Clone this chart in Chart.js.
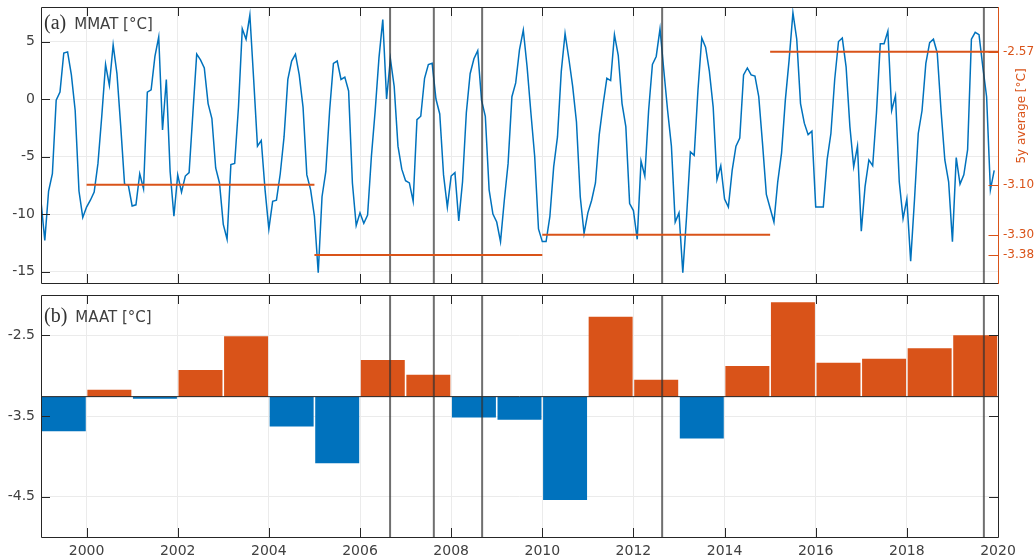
<!DOCTYPE html>
<html>
<head>
<meta charset="utf-8">
<script src="https://cdn.jsdelivr.net/npm/chart.js@4.4.1/dist/chart.umd.min.js"></script>
<style>
  html, body { margin: 0; padding: 0; background: #fff; }
  #wrap { position: relative; width: 1036px; height: 560px; overflow: hidden; }
  canvas { position: absolute; left: 0; }
</style>
</head>
<body>
<div id="wrap">
  <canvas id="chartTop" width="1036" height="290" style="top:0"></canvas>
  <canvas id="chartBottom" width="1036" height="272" style="top:288px"></canvas>
</div>
<script>
// monthly mean air temperature, Jan 1999 .. Dec 2019
const startYear = 1999;
const mmat = [
  -8.9, -12.3, -8.0, -6.5, -0.1, 0.6, 4.0, 4.1, 2.1, -1.0, -8.0, -10.3,
  -9.4, -8.8, -8.1, -5.6, -1.5, 3.0, 1.2, 4.7, 2.2, -2.4, -7.4, -7.5,
  -9.3, -9.2, -6.5, -7.8, 0.6, 0.8, 3.7, 5.4, -2.7, 1.7, -6.3, -10.2,
  -6.6, -8.1, -6.7, -6.4, -1.2, 3.9, 3.4, 2.7, -0.4, -1.7, -6.0, -7.3,
  -10.9, -12.2, -5.7, -5.6, -0.7, 6.1, 5.2, 7.3, 1.7, -4.1, -3.6, -7.9,
  -11.3, -8.9, -8.8, -6.5, -3.3, 1.7, 3.3, 3.9, 2.1, -0.7, -6.6, -7.9,
  -10.2, -15.1, -8.5, -6.3, -1.0, 3.1, 3.3, 1.7, 1.9, 0.7, -7.3, -11.0,
  -9.9, -10.8, -10.1, -5.0, -1.0, 3.6, 6.9, 0.0, 3.5, 1.1, -4.1, -6.1,
  -7.1, -7.3, -8.9, -1.8, -1.5, 1.8, 3.0, 3.1, 0.0, -1.3, -6.6, -9.4,
  -6.7, -6.4, -10.6, -7.2, -1.2, 2.2, 3.5, 4.2, -0.1, -1.5, -7.9, -10.0,
  -10.7, -12.4, -8.8, -5.6, 0.2, 1.4, 4.3, 6.0, 2.8, -1.2, -5.0, -11.3,
  -12.4, -12.4, -10.2, -5.9, -3.3, 2.4, 5.7, 3.5, 1.1, -2.0, -8.5, -11.7,
  -9.9, -8.8, -7.3, -3.1, -0.5, 1.8, 1.6, 5.6, 3.8, -0.4, -2.4, -9.1,
  -9.7, -12.2, -5.4, -6.7, -1.0, 3.0, 3.7, 6.1, 2.5, -1.0, -4.1, -10.7,
  -9.9, -15.1, -10.2, -4.6, -4.9, 0.8, 5.3, 4.5, 2.4, -0.7, -7.0, -5.8,
  -8.7, -9.4, -6.2, -4.1, -3.4, 2.1, 2.7, 2.1, 2.0, 0.2, -3.9, -8.3,
  -9.5, -10.7, -7.2, -4.7, -0.1, 3.4, 7.5, 5.2, -0.4, -2.1, -3.1, -2.8,
  -9.4, -9.4, -9.4, -5.3, -3.0, 1.7, 5.0, 5.3, 2.8, -2.4, -5.9, -4.1,
  -11.5, -7.6, -5.3, -5.8, -1.2, 4.8, 4.8, 5.9, -1.0, 0.3, -7.2, -10.4,
  -8.7, -14.1, -8.8, -3.0, -1.0, 3.1, 4.9, 5.2, 4.0, -1.0, -5.3, -7.2,
  -12.4, -5.1, -7.4, -6.6, -4.4, 5.2, 5.8, 5.6, 2.8, 0.2, -7.9, -6.2
];

// 5 year averages
const avgStart = [2000, 2005, 2010, 2015];
const avgValue = [-3.10, -3.38, -3.30, -2.57];

// annual mean air temperature
const maatYears = [1999, 2000, 2001, 2002, 2003, 2004, 2005, 2006, 2007, 2008, 2009,
  2010, 2011, 2012, 2013, 2014, 2015, 2016, 2017, 2018, 2019];
const maat = [-3.69, -3.175, -3.285, -2.93, -2.51, -3.63, -4.085, -2.805, -2.99, -3.52, -3.546,
  -4.54, -2.27, -3.05, -3.78, -2.88, -2.09, -2.84, -2.79, -2.66, -2.50];
const maatBase = -3.26;

// events (vertical lines)
const eventDates = [2006.66, 2007.62, 2008.68, 2012.63, 2019.69];

// axes
const xTicks = [2000, 2002, 2004, 2006, 2008, 2010, 2012, 2014, 2016, 2018, 2020];
const yTicksTop = [-15, -10, -5, 0, 5];
const yTicksBottom = [-4.5, -3.5, -2.5];

const blue = "#0072BD";
const orange = "#D95319";
const gridColor = "#ebebeb";
const axisColor = "#262626";
const textColor = "#404040";
const eventColor = "rgba(50,50,50,0.7)";

Chart.defaults.font.family = "'DejaVu Sans', sans-serif";
Chart.defaults.font.size = 14;
Chart.defaults.color = textColor;

const decor = {
  id: "decor",
  afterDatasetsDraw(chart, args, o) {
    const { ctx, chartArea: a, scales } = chart;
    ctx.save();
    ctx.lineWidth = 1;
    ctx.strokeStyle = axisColor;
    ctx.beginPath();
    scales.x.ticks.forEach((t) => {
      const px = Math.round(scales.x.getPixelForValue(t.value)) + 0.5;
      ctx.moveTo(px, a.bottom); ctx.lineTo(px, a.bottom - 9);
      ctx.moveTo(px, a.top); ctx.lineTo(px, a.top + 9);
    });
    scales.y.ticks.forEach((t) => {
      const py = Math.round(scales.y.getPixelForValue(t.value)) + 0.5;
      ctx.moveTo(a.left, py); ctx.lineTo(a.left + 9, py);
      if (o.mirror) { ctx.moveTo(a.right, py); ctx.lineTo(a.right - 9, py); }
    });
    ctx.stroke();

    // box
    const l = Math.round(a.left) + 0.5, r = Math.round(a.right) + 0.5;
    const t = Math.round(a.top) + 0.5, b = Math.round(a.bottom) + 0.5;
    ctx.beginPath();
    ctx.moveTo(r, t); ctx.lineTo(l, t); ctx.lineTo(l, b); ctx.lineTo(r, b);
    if (!scales.y2) ctx.lineTo(r, t);
    ctx.stroke();

    if (scales.y2) {
      ctx.strokeStyle = orange;
      ctx.beginPath();
      ctx.moveTo(r, t - 0.5); ctx.lineTo(r, b + 0.5);
      scales.y2.ticks.forEach((tk) => {
        const py = Math.round(scales.y2.getPixelForValue(tk.value)) + 0.5;
        ctx.moveTo(r, py); ctx.lineTo(r - 10, py);
      });
      ctx.stroke();
      ctx.fillStyle = orange;
      ctx.font = "12px 'DejaVu Sans'";
      ctx.textAlign = "center";
      ctx.textBaseline = "middle";
      ctx.translate(a.right + 24, a.top + 109);
      ctx.rotate(-Math.PI / 2);
      ctx.fillText(o.y2Title, 0, 0);
      ctx.setTransform(1, 0, 0, 1, 0, 0);
    }

    // panel label
    ctx.fillStyle = "#333";
    ctx.textAlign = "left";
    ctx.textBaseline = "alphabetic";
    ctx.font = "20px 'Liberation Serif'";
    ctx.fillText(o.tag, a.left + 3, a.top + o.dy);
    const w = ctx.measureText(o.tag).width;
    ctx.fillStyle = textColor;
    ctx.font = "15px 'DejaVu Sans'";
    ctx.fillText(o.name, a.left + 3 + w + 8, a.top + o.dy);
    ctx.restore();
  },
};

const noPad = (s) => {
  s.paddingTop = 0; s.paddingBottom = 0; s.paddingLeft = 0; s.paddingRight = 0;
};

const xScale = (height, showLabels) => ({
  type: "linear",
  min: 1999,
  max: 2020,
  offset: false,
  grid: { color: gridColor, drawTicks: false, offset: false },
  border: { display: false },
  ticks: { display: showLabels, padding: 6, autoSkip: false, maxRotation: 0, callback: (v) => String(v) },
  afterBuildTicks: (s) => { s.ticks = xTicks.map((v) => ({ value: v })); },
  afterFit: (s) => { s.height = height; noPad(s); },
});

new Chart("chartTop", {
  type: "line",
  data: {
    datasets: [
      ...avgStart.map((y0, i) => ({
        data: [{ x: y0, y: avgValue[i] }, { x: y0 + 5, y: avgValue[i] }],
        yAxisID: "y2",
        borderColor: orange,
        borderWidth: 2,
        order: 0,
      })),
      ...eventDates.map((e) => ({
        data: [{ x: e, y: -16 }, { x: e, y: 8 }],
        borderColor: eventColor,
        borderWidth: 2,
        order: 1,
      })),
      {
        data: mmat.map((v, i) => ({ x: startYear + i / 12, y: v })),
        borderColor: blue,
        borderWidth: 1.5,
        order: 2,
      },
    ],
  },
  options: {
    animation: false,
    responsive: false,
    layout: { padding: { top: 7, left: 0, right: 0, bottom: 0 } },
    elements: { point: { radius: 0 }, line: { tension: 0 } },
    plugins: {
      legend: { display: false },
      tooltip: { enabled: false },
      decor: { tag: "(a)", name: "MMAT [°C]", dy: 22, y2Title: "5y average [°C]" },
    },
    scales: {
      x: xScale(7, false),
      y: {
        min: -16,
        max: 8,
        grid: { color: gridColor, drawTicks: false },
        border: { display: false },
        ticks: { padding: 6, callback: (v) => String(v) },
        afterBuildTicks: (s) => { s.ticks = yTicksTop.map((v) => ({ value: v })); },
        afterFit: (s) => { s.width = 41; noPad(s); },
      },
      y2: {
        position: "right",
        min: -3.492,
        max: -2.392,
        grid: { display: false, drawTicks: false },
        border: { display: false },
        ticks: { padding: 5, color: orange, font: { size: 12 }, callback: (v) => v.toFixed(2) },
        afterBuildTicks: (s) => { s.ticks = avgValue.map((v) => ({ value: v })); },
        afterFit: (s) => { s.width = 38; noPad(s); },
      },
    },
  },
  plugins: [decor],
});

new Chart("chartBottom", {
  type: "bar",
  data: {
    datasets: [
      ...eventDates.map((e) => ({
        type: "line",
        data: [{ x: e, y: -5 }, { x: e, y: -2 }],
        borderColor: eventColor,
        borderWidth: 2,
        pointRadius: 0,
        order: 0,
      })),
      {
        type: "line",
        data: [{ x: 1999, y: maatBase }, { x: 2020, y: maatBase }],
        borderColor: axisColor,
        borderWidth: 1,
        pointRadius: 0,
        order: 1,
      },
      {
        type: "bar",
        data: maatYears.map((y, i) => ({ x: y + 0.5, y: [maatBase, maat[i]] })),
        backgroundColor: maat.map((v) => (v > maatBase ? orange : blue)),
        barPercentage: 1,
        categoryPercentage: 0.965,
        order: 2,
      },
    ],
  },
  options: {
    animation: false,
    responsive: false,
    layout: { padding: { top: 7, left: 0, right: 38, bottom: 0 } },
    plugins: {
      legend: { display: false },
      tooltip: { enabled: false },
      decor: { tag: "(b)", name: "MAAT [°C]", dy: 27, mirror: true },
    },
    scales: {
      x: xScale(23, true),
      y: {
        min: -5,
        max: -2,
        grid: { color: gridColor, drawTicks: false },
        border: { display: false },
        ticks: { padding: 6, callback: (v) => v.toFixed(1) },
        afterBuildTicks: (s) => { s.ticks = yTicksBottom.map((v) => ({ value: v })); },
        afterFit: (s) => { s.width = 41; noPad(s); },
      },
    },
  },
  plugins: [decor],
});
</script>
</body>
</html>
